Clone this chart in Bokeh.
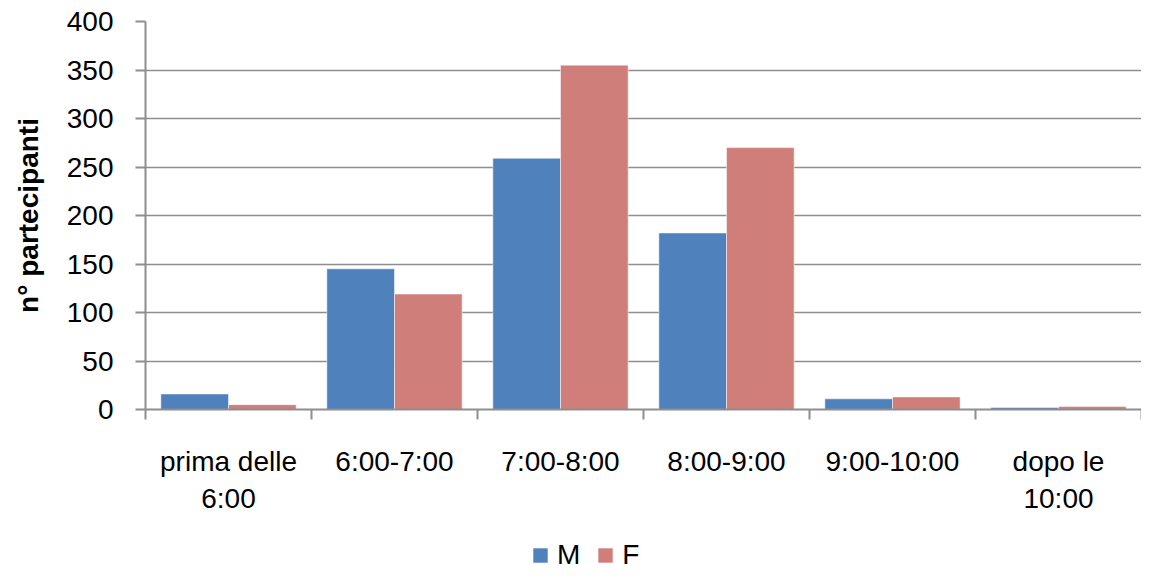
import numpy as np
from bokeh.plotting import figure
from bokeh.layouts import column
from bokeh.models import ColumnDataSource, Range1d, FixedTicker, Legend, LegendItem
from bokeh.transform import dodge
from bokeh.embed import file_html
from bokeh.resources import INLINE

categories = ["prima delle\n6:00", "6:00-7:00", "7:00-8:00", "8:00-9:00", "9:00-10:00", "dopo le\n10:00"]
male = [16, 145, 259, 182, 11, 2]
female = [5, 119, 355, 270, 13, 3]
series_names = ["M", "F"]
series_colors = ["#4F81BD", "#D07E7A"]
y_ticks = [0, 50, 100, 150, 200, 250, 300, 350, 400]
y_label = "n° partecipanti"

FONT = "Liberation Sans"
FS = "28px"
GRAY = "#8E8E8E"
W = 1141

n = len(categories)
centers = [i + 0.5 for i in range(n)]
src = ColumnDataSource(dict(x=centers, M=male, F=female))

p = figure(width=W, height=530, output_backend="svg", toolbar_location=None,
           x_range=Range1d(0, n), y_range=Range1d(y_ticks[0], y_ticks[-1]),
           min_border_left=145, min_border_right=0, min_border_top=21, min_border_bottom=121)
p.outline_line_color = None
p.background_fill_color = "white"
p.border_fill_color = "white"

bw = 0.4075
p.vbar(x=dodge("x", -bw / 2, range=p.x_range), top="M", width=bw, source=src,
       fill_color=series_colors[0], line_color="white", line_alpha=0.5, line_width=1)
p.vbar(x=dodge("x", bw / 2, range=p.x_range), top="F", width=bw, source=src,
       fill_color=series_colors[1], line_color="white", line_alpha=0.5, line_width=1)

# x axis
xa = p.xaxis[0]
xa.ticker = FixedTicker(ticks=centers, minor_ticks=list(range(n + 1)))
xa.major_label_overrides = {c: lab for c, lab in zip(centers, categories)}
xa.major_tick_out = 0
xa.major_tick_in = 0
xa.minor_tick_out = 10
xa.minor_tick_in = 0
xa.minor_tick_line_color = GRAY
xa.minor_tick_line_width = 2
xa.axis_line_color = GRAY
xa.axis_line_width = 2
xa.major_label_text_font = FONT
xa.major_label_text_font_size = FS
xa.major_label_text_color = "black"
xa.major_label_standoff = 26

# y axis
ya = p.yaxis[0]
ya.ticker = FixedTicker(ticks=y_ticks)
ya.minor_tick_line_color = None
ya.major_tick_out = 10
ya.major_tick_in = 0
ya.major_tick_line_color = GRAY
ya.major_tick_line_width = 2
ya.axis_line_color = GRAY
ya.axis_line_width = 2
ya.major_label_text_font = FONT
ya.major_label_text_font_size = FS
ya.major_label_text_color = "black"
ya.major_label_standoff = 22
ya.axis_label = y_label
ya.axis_label_text_font = FONT
ya.axis_label_text_font_size = "28px"
ya.axis_label_text_font_style = "bold"
ya.axis_label_text_color = "black"
ya.axis_label_standoff = 20

p.xgrid.grid_line_color = None
p.ygrid.ticker = FixedTicker(ticks=y_ticks)
p.ygrid.grid_line_color = GRAY
p.ygrid.grid_line_width = 1.5

# legend strip (separate small figure so the legend is not clipped);
# its own bars fall outside its ranges, only the legend shows
lg = figure(width=W, height=41, output_backend="svg", toolbar_location=None,
            x_range=Range1d(-2 * n, -n), y_range=Range1d(-2000, -1000),
            min_border_left=0, min_border_right=0, min_border_top=0, min_border_bottom=0)
lg.axis.visible = False
lg.grid.visible = False
lg.outline_line_color = None
lg.background_fill_color = "white"
lg.border_fill_color = "white"
lr_m = lg.vbar(x="x", top="M", width=bw, source=src, fill_color=series_colors[0], line_color=None)
lr_f = lg.vbar(x="x", top="F", width=bw, source=src, fill_color=series_colors[1], line_color=None)

legend = Legend(items=[LegendItem(label=series_names[0], renderers=[lr_m]),
                       LegendItem(label=series_names[1], renderers=[lr_f])],
                orientation="horizontal", location=(386, 0))
legend.border_line_color = None
legend.background_fill_alpha = 0
legend.padding = 0
legend.margin = 0
legend.spacing = 16
legend.glyph_width = 18
legend.glyph_height = 18
legend.label_standoff = 8
legend.label_text_font = FONT
legend.label_text_font_size = FS
legend.label_text_color = "black"
lg.add_layout(legend)

layout = column(p, lg, spacing=0)
open("out.html", "w").write(file_html(layout, INLINE))
